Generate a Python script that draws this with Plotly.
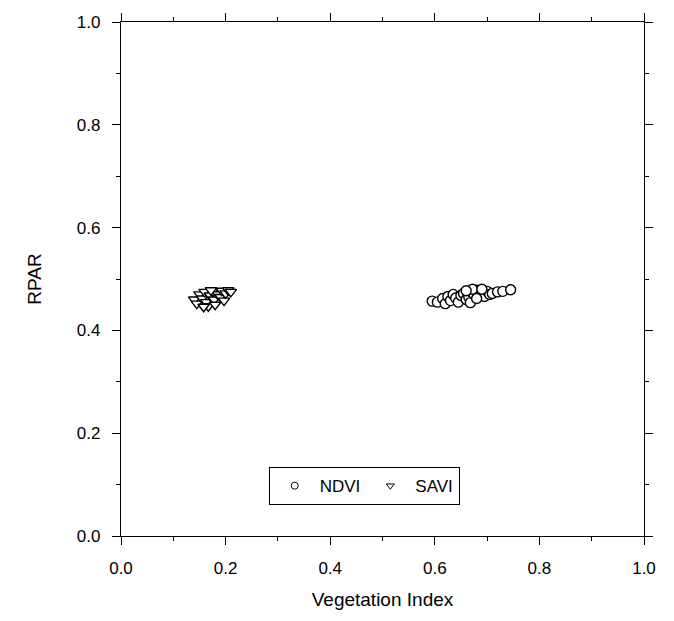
import plotly.graph_objects as go

ndvi_x = [0.595, 0.605, 0.615, 0.620, 0.625, 0.630, 0.635, 0.640, 0.645, 0.650,
          0.655, 0.660, 0.665, 0.668, 0.670, 0.675, 0.680, 0.685, 0.690, 0.695,
          0.700, 0.705, 0.710, 0.720, 0.730, 0.745, 0.672, 0.680, 0.660, 0.690]
ndvi_y = [0.457, 0.455, 0.462, 0.452, 0.466, 0.458, 0.470, 0.463, 0.455, 0.468,
          0.472, 0.460, 0.465, 0.454, 0.475, 0.470, 0.478, 0.468, 0.473, 0.466,
          0.476, 0.470, 0.472, 0.475, 0.476, 0.479, 0.480, 0.462, 0.477, 0.480]

savi_x = [0.140, 0.145, 0.150, 0.155, 0.160, 0.163, 0.167, 0.170, 0.175, 0.178,
          0.180, 0.185, 0.190, 0.193, 0.197, 0.200, 0.205, 0.210, 0.172, 0.158]
savi_y = [0.460, 0.452, 0.470, 0.462, 0.475, 0.455, 0.447, 0.468, 0.476, 0.460,
          0.450, 0.470, 0.465, 0.477, 0.458, 0.472, 0.478, 0.475, 0.478, 0.446]

tick_vals = [0.0, 0.2, 0.4, 0.6, 0.8, 1.0]
tick_text = ["0.0", "0.2", "0.4", "0.6", "0.8", "1.0"]

font = "Liberation Sans, Arial, sans-serif"

fig = go.Figure()
fig.add_trace(go.Scatter(x=savi_x, y=savi_y, mode="markers", showlegend=False,
                         marker=dict(symbol="triangle-down", size=10, color="white",
                                     line=dict(color="black", width=1.4))))
fig.add_trace(go.Scatter(x=ndvi_x, y=ndvi_y, mode="markers", showlegend=False,
                         marker=dict(symbol="circle", size=10, color="white",
                                     line=dict(color="black", width=1.4))))
# legend entries
fig.add_trace(go.Scatter(x=[None], y=[None], mode="markers", name="NDVI",
                         marker=dict(symbol="circle", size=7, color="white",
                                     line=dict(color="black", width=1))))
fig.add_trace(go.Scatter(x=[None], y=[None], mode="markers", name="SAVI",
                         marker=dict(symbol="triangle-down", size=7, color="white",
                                     line=dict(color="black", width=1))))

axis_common = dict(
    range=[0, 1], tickvals=tick_vals, ticktext=tick_text,
    ticks="outside", ticklen=8, tickwidth=1, tickcolor="black",
    showline=True, linecolor="black", linewidth=1.3, mirror="ticks",
    showgrid=False, zeroline=False, ticklabelstandoff=8,
    minor=dict(dtick=0.1, ticks="outside", ticklen=4, tickcolor="black", showgrid=False),
    tickfont=dict(family=font, size=17, color="black"),
)

fig.update_layout(
    width=674, height=621,
    paper_bgcolor="white", plot_bgcolor="white",
    margin=dict(l=113, r=38, t=14, b=93, autoexpand=False),
    font=dict(family=font, color="black"),
    xaxis=dict(**axis_common, title=dict(text="Vegetation Index", font=dict(family=font, size=19), standoff=16)),
    yaxis=dict(**axis_common, title=dict(text="RPAR", font=dict(family=font, size=19), standoff=30)),
    legend=dict(orientation="h", x=0.465, y=0.097, xanchor="center", yanchor="middle",
                bordercolor="black", borderwidth=1, bgcolor="white",
                font=dict(family=font, size=17), itemwidth=40, tracegroupgap=0),
)

fig.write_html("out.html")
